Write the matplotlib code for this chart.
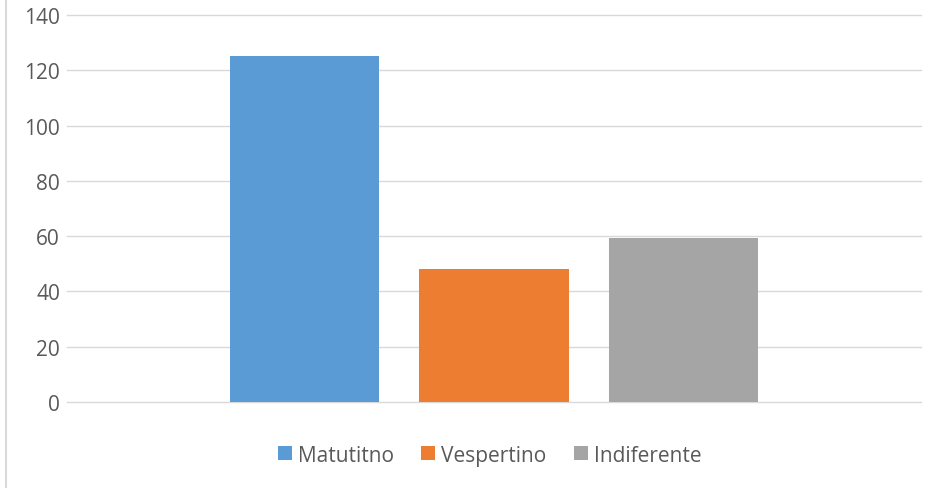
import matplotlib.pyplot as plt
from matplotlib.lines import Line2D

# Data
categories = ["Matutitno", "Vespertino", "Indiferente"]
values = [125, 48, 59.5]
colors = ["#5b9bd5", "#ed7d31", "#a5a5a5"]

plt.rcParams["font.family"] = ["Open Sans", "DejaVu Sans"]

fig = plt.figure(figsize=(9.49, 4.89), dpi=100)
ax = fig.add_axes([67 / 949, (489 - 403) / 489, (921 - 67) / 949, (403 - 16) / 489])

# one bar per series, clustered in a single category
for i, (name, val, col) in enumerate(zip(categories, values, colors)):
    ax.bar(i, val, width=0.79, color=col, label=name, zorder=3)

ax.set_xlim(-1.255, 3.255)
ax.set_ylim(0, 140)
ax.set_yticks(range(0, 141, 20))
ax.set_xticks([])
ax.grid(axis="y", color="#d9d9d9", linewidth=1, zorder=0)
for gl in ax.get_ygridlines():
    gl.set_clip_on(False)
for s in ax.spines.values():
    s.set_visible(False)
ax.tick_params(axis="y", length=0, pad=5, labelsize=15, labelcolor="#595959")

# legend at the bottom
ax.legend(loc="center", bbox_to_anchor=(0.495, -0.137), ncol=3, frameon=False,
          fontsize=15, labelcolor="#595959", handlelength=0.67, handleheight=0.67,
          handletextpad=0.3, columnspacing=1.3)

# left border of the chart area
fig.add_artist(Line2D([5.5 / 949, 5.5 / 949], [0, 1], color="#d9d9d9", linewidth=1.5))

plt.savefig("out.png", dpi=100)
